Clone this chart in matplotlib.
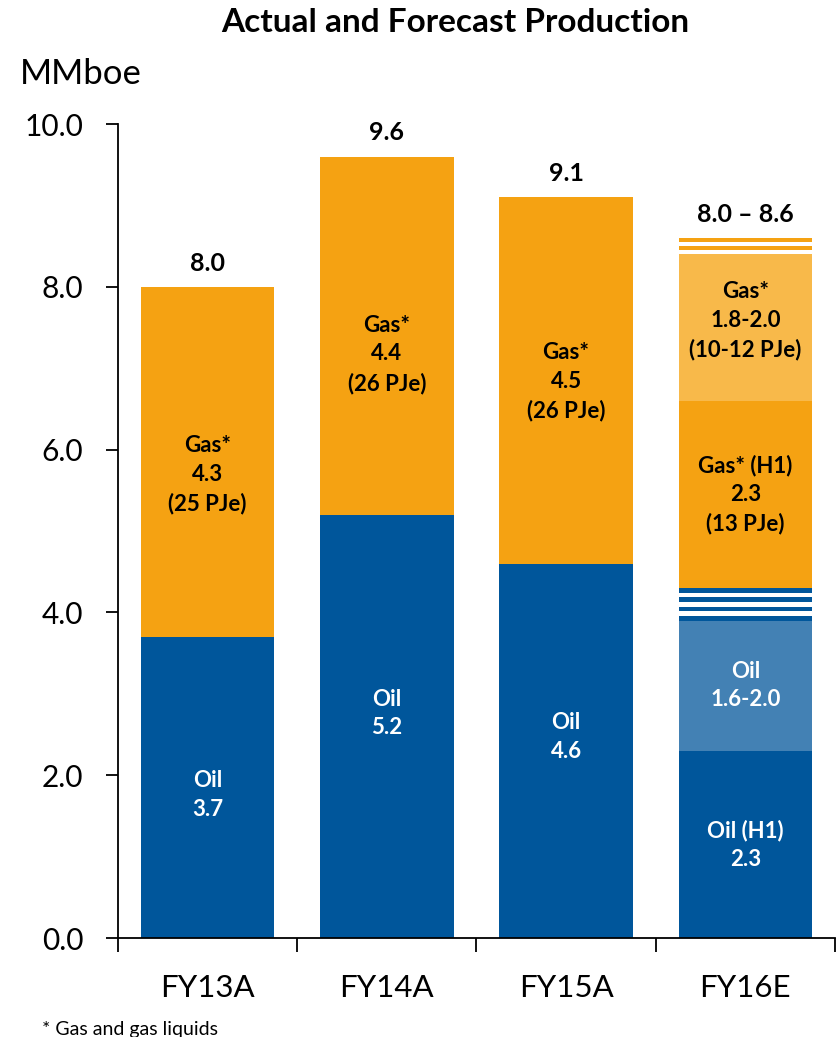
import matplotlib.pyplot as plt
import numpy as np

plt.rcParams['font.family'] = ['Lato', 'DejaVu Sans']

# Production, MMboe
years = ["FY13A", "FY14A", "FY15A", "FY16E"]
oil = [3.7, 5.2, 4.6, 2.3]          # actual oil / FY16 H1 oil
gas = [4.3, 4.4, 4.5, 2.3]          # actual gas / FY16 H1 gas
totals = ["8.0", "9.6", "9.1", "8.0 \u2013 8.6"]

# FY16 second-half forecast ranges
oil_h2_low, oil_h2_high = 1.6, 2.0
gas_h2_low, gas_h2_high = 1.8, 2.0

oil_labels = ["Oil\n3.7", "Oil\n5.2", "Oil\n4.6", "Oil (H1)\n2.3"]
gas_labels = ["Gas*\n4.3\n(25 PJe)", "Gas*\n4.4\n(26 PJe)",
              "Gas*\n4.5\n(26 PJe)", "Gas* (H1)\n2.3\n(13 PJe)"]
oil_h2_label = "Oil\n1.6-2.0"
gas_h2_label = "Gas*\n1.8-2.0\n(10-12 PJe)"

DARK_BLUE = "#00569b"
LIGHT_BLUE = "#4381b4"
ORANGE = "#f5a212"
LIGHT_ORANGE = "#f8b94a"

fig = plt.figure(figsize=(8.37, 10.37), dpi=100)
ax = fig.add_axes([118/837, 1 - 938/1037, 717/837, 814/1037])

x = np.arange(len(years))
w = 0.745
lbl = dict(ha="center", va="center", fontsize=16, fontweight="bold",
           linespacing=1.45)


def striped_band(xpos, lo, hi, n_pieces, start_with_stripe, color):
    edges = np.linspace(lo, hi, n_pieces + 1)
    for i in range(n_pieces):
        if (i % 2 == 0) == start_with_stripe:
            ax.bar(xpos, edges[i + 1] - edges[i], w, bottom=edges[i],
                   color=color, linewidth=0)


# actual years
ax.bar(x[:3], oil[:3], w, color=DARK_BLUE, linewidth=0)
ax.bar(x[:3], gas[:3], w, bottom=oil[:3], color=ORANGE, linewidth=0)

# FY16 forecast stack
i = 3
y0 = 0
ax.bar(x[i], oil[i], w, color=DARK_BLUE, linewidth=0)
y0 += oil[i]
ax.bar(x[i], oil_h2_low, w, bottom=y0, color=LIGHT_BLUE, linewidth=0)
oil_h2_mid = y0 + oil_h2_low / 2
y0 += oil_h2_low
striped_band(x[i], y0, y0 + oil_h2_high - oil_h2_low, 7, True, DARK_BLUE)
y0 += oil_h2_high - oil_h2_low
ax.bar(x[i], gas[i], w, bottom=y0, color=ORANGE, linewidth=0)
gas_h1_mid = y0 + gas[i] / 2
y0 += gas[i]
ax.bar(x[i], gas_h2_low, w, bottom=y0, color=LIGHT_ORANGE, linewidth=0)
gas_h2_mid = y0 + gas_h2_low / 2
y0 += gas_h2_low
striped_band(x[i], y0, y0 + gas_h2_high - gas_h2_low, 4, False, ORANGE)
top16 = y0 + gas_h2_high - gas_h2_low

# labels inside the bars
oil_ys = [1.76, 2.76, 2.47, oil[3] / 2]
gas_ys = [5.69, 7.17, 6.83, gas_h1_mid]
for k in range(4):
    ax.text(x[k], oil_ys[k], oil_labels[k], color="white", **lbl)
    ax.text(x[k], gas_ys[k], gas_labels[k], color="black", **lbl)
ax.text(x[3], oil_h2_mid, oil_h2_label, color="white", **lbl)
ax.text(x[3], gas_h2_mid + 0.08, gas_h2_label, color="black", **lbl)

# totals
tops = [oil[k] + gas[k] for k in range(3)] + [top16]
for k in range(4):
    ax.annotate(totals[k], (x[k], tops[k]), xytext=(0, 17),
                textcoords="offset points", ha="center", va="center",
                fontsize=18, fontweight="bold")

ax.set_xlim(-0.5, 3.5)
ax.set_ylim(0, 10)
ax.set_yticks(np.arange(0, 10.1, 2))
ax.set_yticklabels([f"{v:.1f}" for v in np.arange(0, 10.1, 2)])
ax.set_xticks(x)
ax.set_xticklabels(years)
ax.tick_params(axis="y", labelsize=21.5, length=9, width=1.3, pad=16)
ax.tick_params(axis="x", labelsize=22.5, length=0, pad=26)
ax.set_xticks(np.arange(-0.5, 3.6, 1), minor=True)
ax.tick_params(axis="x", which="minor", length=10, width=1.3)
for s in ["top", "right"]:
    ax.spines[s].set_visible(False)
for s in ["left", "bottom"]:
    ax.spines[s].set_linewidth(1.3)

fig.text(455/837, 1 - 22/1037, "Actual and Forecast Production",
         ha="center", va="center", fontsize=24, fontweight="bold")
fig.text(20/837, 1 - 74/1037, "MMboe", ha="left", va="center", fontsize=25)
fig.text(42/837, 1 - 1029/1037, "* Gas and gas liquids", ha="left",
         va="center", fontsize=14)

fig.savefig("out.png", dpi=100)
